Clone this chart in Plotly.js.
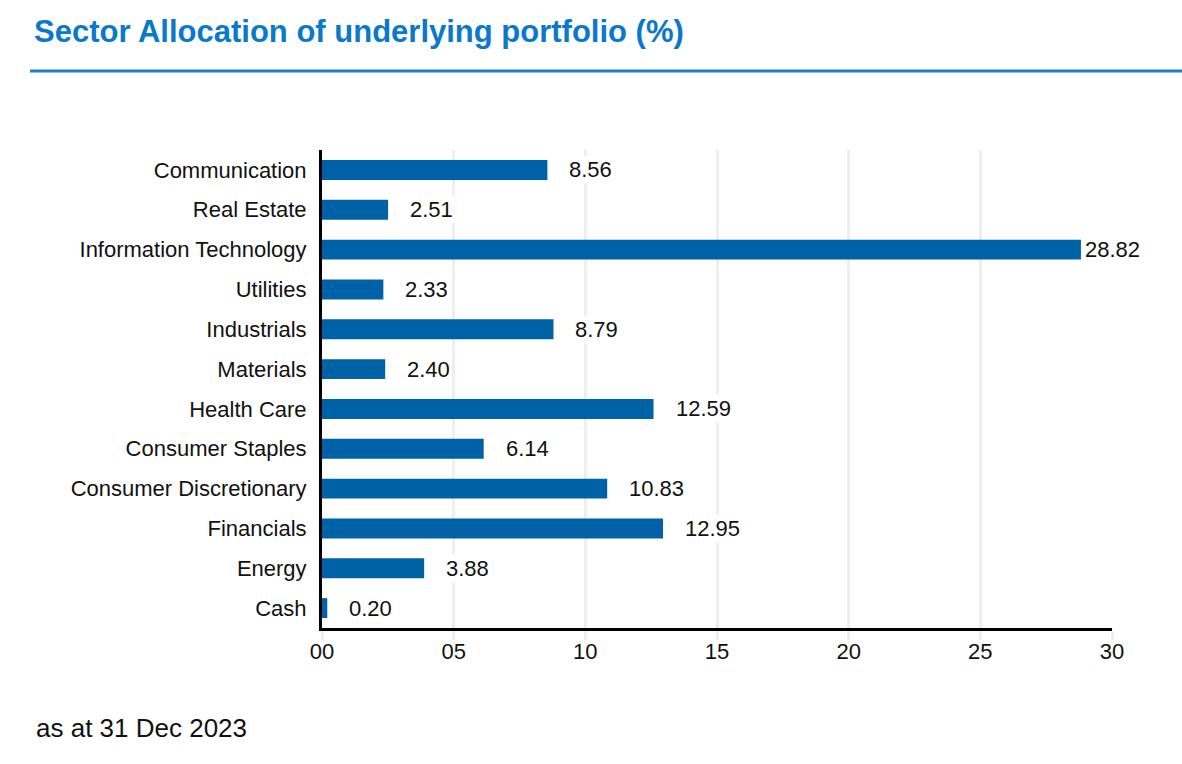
<!DOCTYPE html>
<html>
<head>
<meta charset="utf-8">
<script src="https://cdn.plot.ly/plotly-3.0.1.min.js"></script>
<style>html,body{margin:0;padding:0;background:#fff;}#chart{width:1182px;height:764px;}</style>
</head>
<body>
<div id="chart"></div>
<script>
const sectors = ["Communication","Real Estate","Information Technology","Utilities","Industrials","Materials","Health Care","Consumer Staples","Consumer Discretionary","Financials","Energy","Cash"];
const allocation = [8.56, 2.51, 28.82, 2.33, 8.79, 2.40, 12.59, 6.14, 10.83, 12.95, 3.88, 0.20];
const xTickVals = [0, 5, 10, 15, 20, 25, 30];
const xTickText = ["00", "05", "10", "15", "20", "25", "30"];

const W = 1182, H = 764;
const mL = 322, mR = 70, mT = 150, mB = 136;
const pw = W - mL - mR, ph = H - mT - mB;
const px = x => (x - mL) / pw;
const py = y => (H - mB - y) / ph;
const FONT = "Arial, 'Liberation Sans', sans-serif";

const labels = sectors.map((s, i) => ({
  x: allocation[i], y: s, xref: 'x', yref: 'y',
  text: allocation[i].toFixed(2), showarrow: false,
  xanchor: 'left', yanchor: 'middle',
  xshift: allocation[i] > 27 ? 2 : 20,
  bgcolor: '#ffffff', borderpad: 1,
  font: {family: FONT, size: 22, color: '#111111'}
}));

const data = [{
  type: 'bar', orientation: 'h',
  x: allocation, y: sectors,
  marker: {color: '#0062a6'},
  hoverinfo: 'x+y'
}];

const layout = {
  width: W, height: H,
  margin: {l: mL, r: mR, t: mT, b: mB},
  paper_bgcolor: '#ffffff', plot_bgcolor: '#ffffff',
  showlegend: false,
  bargap: 0.5,
  title: {
    text: 'Sector Allocation of underlying portfolio (%)',
    xref: 'container', yref: 'container',
    x: 34 / W, xanchor: 'left',
    y: 1 - 31 / H, yanchor: 'middle',
    font: {family: FONT, size: 31, color: '#0a78cc', weight: 'bold'}
  },
  xaxis: {
    range: [0, 30],
    tickvals: xTickVals, ticktext: xTickText,
    showgrid: true, gridcolor: '#eeeeee', gridwidth: 3,
    zeroline: false,
    showline: true, linecolor: '#000000', linewidth: 3,
    ticks: 'outside', ticklen: 9, tickwidth: 3, tickcolor: '#eeeeee',
    ticklabelstandoff: -7,
    tickfont: {family: FONT, size: 22, color: '#111111'},
    fixedrange: true
  },
  yaxis: {
    type: 'category',
    categoryorder: 'array', categoryarray: sectors,
    autorange: 'reversed',
    showgrid: false, zeroline: false,
    showline: true, linecolor: '#000000', linewidth: 3,
    ticks: '', ticklabelstandoff: 8,
    tickfont: {family: FONT, size: 22, color: '#111111'},
    fixedrange: true
  },
  shapes: [{
    type: 'line', xref: 'paper', yref: 'paper',
    x0: px(30), x1: px(1182), y0: py(71), y1: py(71),
    line: {color: '#1a7fcc', width: 3}
  }],
  annotations: labels.concat([{
    xref: 'paper', yref: 'paper', x: px(34), y: py(728),
    xanchor: 'left', yanchor: 'middle', showarrow: false,
    text: 'as at 31 Dec 2023',
    font: {family: FONT, size: 26, color: '#111111'}
  }])
};

Plotly.newPlot('chart', data, layout, {displayModeBar: false, staticPlot: true});
</script>
</body>
</html>
